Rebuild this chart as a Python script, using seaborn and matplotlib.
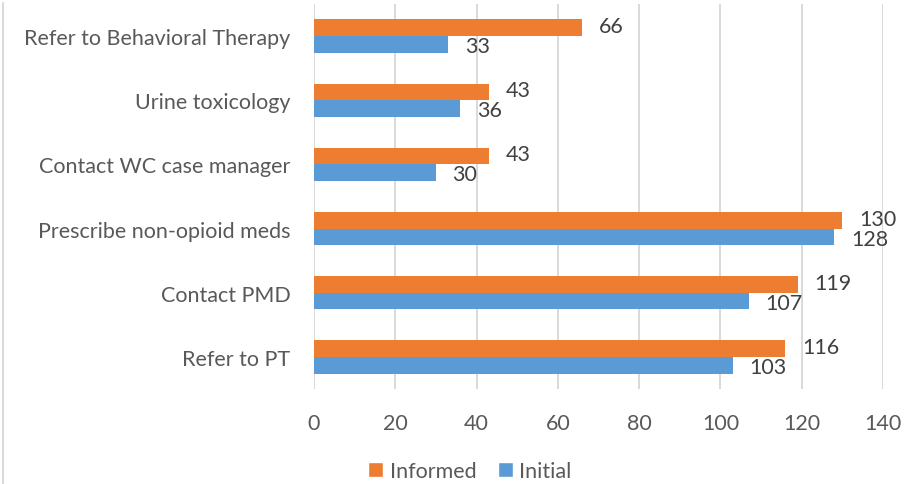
import matplotlib
matplotlib.use("Agg")
import matplotlib.pyplot as plt
from matplotlib.lines import Line2D
from matplotlib.patches import Patch
import pandas as pd
import seaborn as sns

categories = [
    "Refer to Behavioral Therapy",
    "Urine toxicology",
    "Contact WC case manager",
    "Prescribe non-opioid meds",
    "Contact PMD",
    "Refer to PT",
]
informed = [66, 43, 43, 130, 119, 116]
initial = [33, 36, 30, 128, 107, 103]
series_names = ["Informed", "Initial"]
x_ticks = [0, 20, 40, 60, 80, 100, 120, 140]

ORANGE = "#ED7D31"
BLUE = "#5B9BD5"
TEXT = "#595959"
GRID = "#D9D9D9"
FS = 15.5

sns.set_theme(style="white")
plt.rcParams["font.family"] = ["Lato", "DejaVu Sans"]

df = pd.DataFrame({
    "category": categories * 2,
    "value": informed + initial,
    "series": [series_names[0]] * len(categories) + [series_names[1]] * len(categories),
})

fig = plt.figure(figsize=(9.19, 4.85), dpi=100)
ax = fig.add_axes([314 / 919, 1 - 390 / 485, (883 - 314) / 919, 385 / 485])

sns.barplot(
    data=df, x="value", y="category", hue="series",
    hue_order=series_names, order=categories,
    palette=[ORANGE, BLUE], saturation=1, orient="h", width=0.52,
    errorbar=None, legend=False, ax=ax, linewidth=0, zorder=3,
)

# value labels: upper series nudged up, lower series nudged down
for container, dy in zip(ax.containers, (1.2, -1.2)):
    for ann in ax.bar_label(container, fmt="%d", padding=12, fontsize=FS, color="#404040"):
        ann.xyann = (12, dy)

ax.set_xlim(0, 140)
ax.set_ylim(5.5, -0.5)
ax.set_xticks(x_ticks)
ax.set_xticklabels([str(t) for t in x_ticks])
ax.set_xlabel("")
ax.set_ylabel("")
ax.grid(axis="x", color=GRID, linewidth=1.4, zorder=0)
ax.grid(axis="y", visible=False)
for side in ax.spines.values():
    side.set_visible(False)
ax.tick_params(axis="x", length=0, pad=17, labelsize=FS, labelcolor=TEXT)
ax.tick_params(axis="y", length=0, pad=17, labelsize=FS, labelcolor=TEXT)

handles = [Patch(facecolor=ORANGE, label=series_names[0]),
           Patch(facecolor=BLUE, label=series_names[1])]
fig.legend(
    handles=handles, loc="center", bbox_to_anchor=(470 / 919, 1 - 472 / 485),
    ncol=2, frameon=False, fontsize=FS, labelcolor=TEXT,
    handlelength=0.7, handleheight=0.7, handletextpad=0.3, columnspacing=1.0,
)

fig.add_artist(Line2D([2.5 / 919, 2.5 / 919], [0, 1 - 4 / 485],
                      transform=fig.transFigure, color=GRID, linewidth=1.5))

fig.savefig("out.png", dpi=100)
